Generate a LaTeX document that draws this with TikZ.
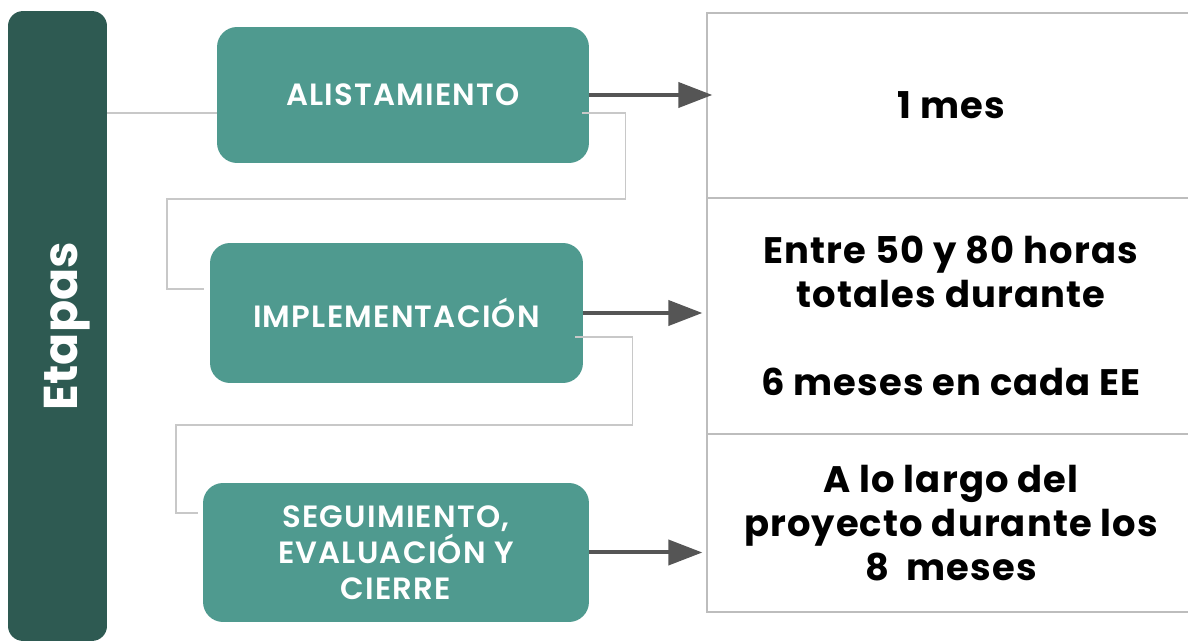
\documentclass[tikz,border=0pt]{standalone}
\usepackage{fontspec}
\setmainfont{Poppins}
\newfontfamily\stagefont[LetterSpace=4]{Poppins SemiBold}
\newfontfamily\cellfont[LetterSpace=3]{Poppins}
\usepackage{tikz}
\usetikzlibrary{arrows.meta}

\definecolor{barcol}{HTML}{2E5A52}
\definecolor{boxcol}{HTML}{4F9A8F}
\definecolor{arrowcol}{HTML}{555555}
\definecolor{linkcol}{HTML}{C8C8C8}
\definecolor{cellcol}{HTML}{BDBDBD}

\begin{document}
\begin{tikzpicture}[x=0.02cm,y=-0.02cm]
\tikzset{bar/.style = {fill=barcol,rounded corners=0.3cm,minimum width=1.98cm,minimum height=12.6cm,inner sep=0pt}}
\tikzset{title/.style = {rotate=90,text=white,inner sep=0pt,font=\bfseries\fontsize{27}{30}\selectfont}}
\tikzset{stage/.style = {fill=boxcol,rounded corners=0.4cm,text=white,align=center,inner sep=0pt,font=\stagefont\fontsize{17.5}{20.4}\selectfont}}
\tikzset{cell/.style = {draw=cellcol,line width=0.8pt,minimum width=9.76cm,align=center,inner sep=0pt,font=\cellfont\bfseries\fontsize{21}{25}\selectfont}}
\tikzset{edge/.style = {arrowcol,line width=0.08cm,-{Triangle[length=0.68cm,width=0.5cm]}}}
\tikzset{link/.style = {linkcol,line width=0.7pt}}

\useasboundingbox (0,0) rectangle (1188,641);

% Stages of the project and their duration
\node[bar] (bar) at (57.5,326) {};
\node[title] (etapas) at (67,326) {Etapas};

\node[stage,minimum width=7.44cm,minimum height=2.72cm] (alist) at (403,95) {ALISTAMIENTO};
\node[stage,minimum width=7.46cm,minimum height=2.8cm] (impl) at (396.5,313) {IMPLEMENTACIÓN};
\node[stage,minimum width=7.72cm,minimum height=2.78cm] (seg) at (396,552.5) {SEGUIMIENTO,\\EVALUACIÓN Y\\CIERRE};

\node[cell,minimum height=3.7cm] (one) at (951,105.5) {1 mes};
\node[cell,minimum height=4.72cm] (two) at (951,316) {Entre 50 y 80 horas\\totales durante\\~\\6 meses en cada EE};
\node[cell,minimum height=3.56cm] (three) at (951,523) {A lo largo del\\proyecto durante los\\8\ \ meses};

\draw[edge] (alist.east) -- ([xshift=0.12cm]alist.east -| one.west);
\draw[edge] (impl.east) -- ([xshift=-0.08cm]impl.east -| two.west);
\draw[edge] (seg.east) -- ([xshift=-0.08cm]seg.east -| three.west);

\draw[link] ([yshift=-0.36cm]alist.west) -- ([yshift=-0.36cm]alist.west -| bar.east);
\draw[link] ([xshift=-0.14cm,yshift=-0.36cm]alist.east) -- ++(43,0) |- (167,199) |- ([xshift=-0.12cm,yshift=0.48cm]impl.west);
\draw[link] ([xshift=-0.16cm,yshift=-0.48cm]impl.east) -- ++(57,0) |- (176,425) |- ([xshift=-0.1cm,yshift=0.79cm]seg.west);

\end{tikzpicture}
\end{document}
